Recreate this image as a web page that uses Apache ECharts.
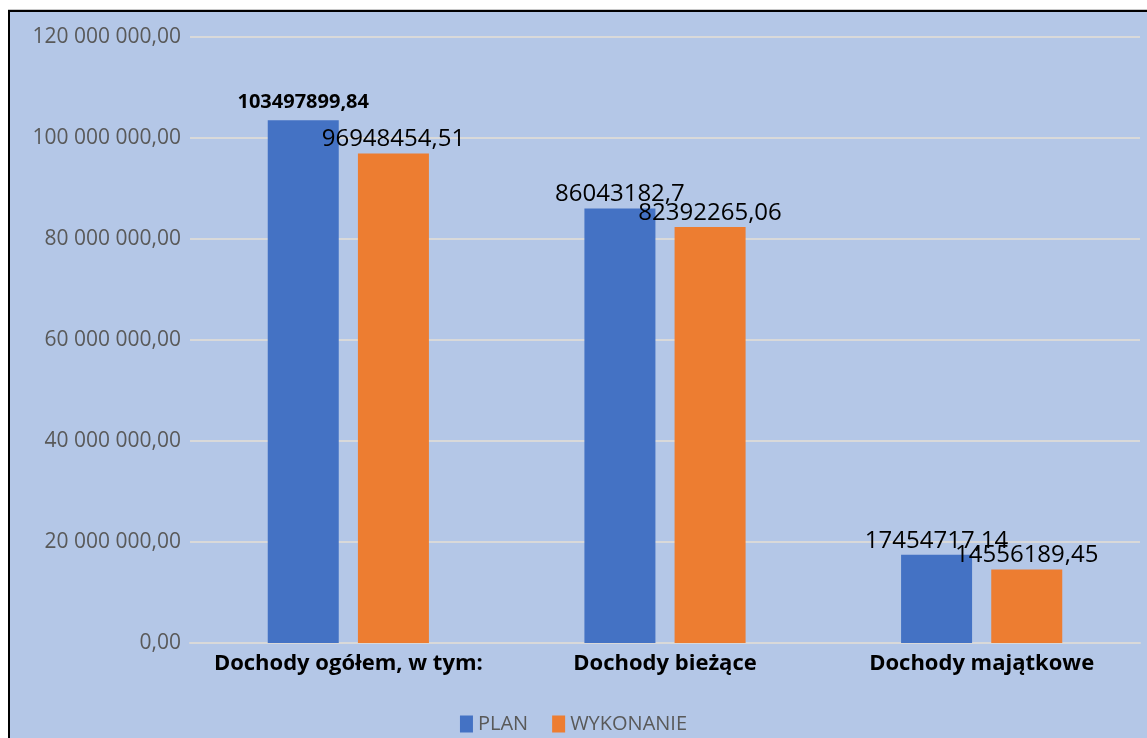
<!DOCTYPE html>
<html>
<head>
<meta charset="utf-8">
<script src="https://cdn.jsdelivr.net/npm/echarts@6/dist/echarts.min.js"></script>
<style>
  html, body { margin: 0; padding: 0; background: #fff; overflow: hidden; }
  .frame {
    position: absolute; left: 8px; top: 10px;
    width: 1200px; height: 800px;
    background: #b4c7e7;
    border: 2px solid #000;
    box-shadow: 0 -1px 0 #c8c8c8;
  }
  #chart { position: absolute; left: 0; top: 0; width: 1147px; height: 738px; }
</style>
</head>
<body>
<div class="frame"></div>
<div id="chart"></div>
<script>
const categories = ['Dochody ogółem, w tym:', 'Dochody bieżące', 'Dochody majątkowe']
const planValues = [103497899.84, 86043182.7, 17454717.14]
const wykonanieValues = [96948454.51, 82392265.06, 14556189.45]
const yTicks = [0, 20000000, 40000000, 60000000, 80000000, 100000000, 120000000]

const FONT = "'Open Sans', 'Noto Sans', sans-serif"

// 120000000 -> "120 000 000,00"
function fmtAxis(v) {
  const s = Math.round(v).toString().replace(/\B(?=(\d{3})+(?!\d))/g, ' ')
  return s + ',00'
}
function fmtLabel(v) {
  return String(v).replace('.', ',')
}

const myChart = echarts.init(document.getElementById('chart'))
myChart.setOption({
  backgroundColor: 'transparent',
  animation: false,
  grid: {
    left: 190,
    right: 7,
    top: 37,
    bottom: 95
  },
  legend: {
    bottom: -1,
    left: 'center',
    itemWidth: 13,
    itemHeight: 17,
    itemGap: 24,
    icon: 'rect',
    textStyle: { fontFamily: FONT, fontSize: 20, color: '#595959' },
    data: ['PLAN', 'WYKONANIE']
  },
  xAxis: {
    type: 'category',
    data: categories,
    axisLine: { lineStyle: { color: '#d9d9d9', width: 2 } },
    axisTick: { show: false },
    axisLabel: {
      interval: 0,
      fontFamily: FONT, fontSize: 22, fontWeight: 'bold', color: '#000',
      margin: 10
    }
  },
  yAxis: {
    type: 'value',
    min: 0,
    max: yTicks[yTicks.length - 1],
    interval: 20000000,
    axisLine: { show: false },
    axisTick: { show: false },
    splitLine: { lineStyle: { color: '#d9d9d9', width: 2 } },
    axisLabel: {
      fontFamily: FONT, fontSize: 21, color: '#595959', margin: 9,
      formatter: fmtAxis
    }
  },
  series: [
    {
      name: 'PLAN',
      type: 'bar',
      data: planValues.map((v, i) => ({
        value: v,
        label: i === 0 ? { fontWeight: 'bold', fontSize: 20, distance: 8 } : {}
      })),
      barWidth: 71,
      barGap: '27%',
      itemStyle: { color: '#4472c4' },
      label: {
        show: true, position: 'top', distance: 2,
        fontFamily: FONT, fontSize: 24, color: '#000',
        formatter: p => fmtLabel(p.value)
      }
    },
    {
      name: 'WYKONANIE',
      type: 'bar',
      data: wykonanieValues,
      barWidth: 71,
      itemStyle: { color: '#ed7d31' },
      label: {
        show: true, position: 'top', distance: 2,
        fontFamily: FONT, fontSize: 24, color: '#000',
        formatter: p => fmtLabel(p.value)
      }
    }
  ]
})
window.addEventListener('resize', () => {
  myChart.resize()
})
</script>
</body>
</html>
